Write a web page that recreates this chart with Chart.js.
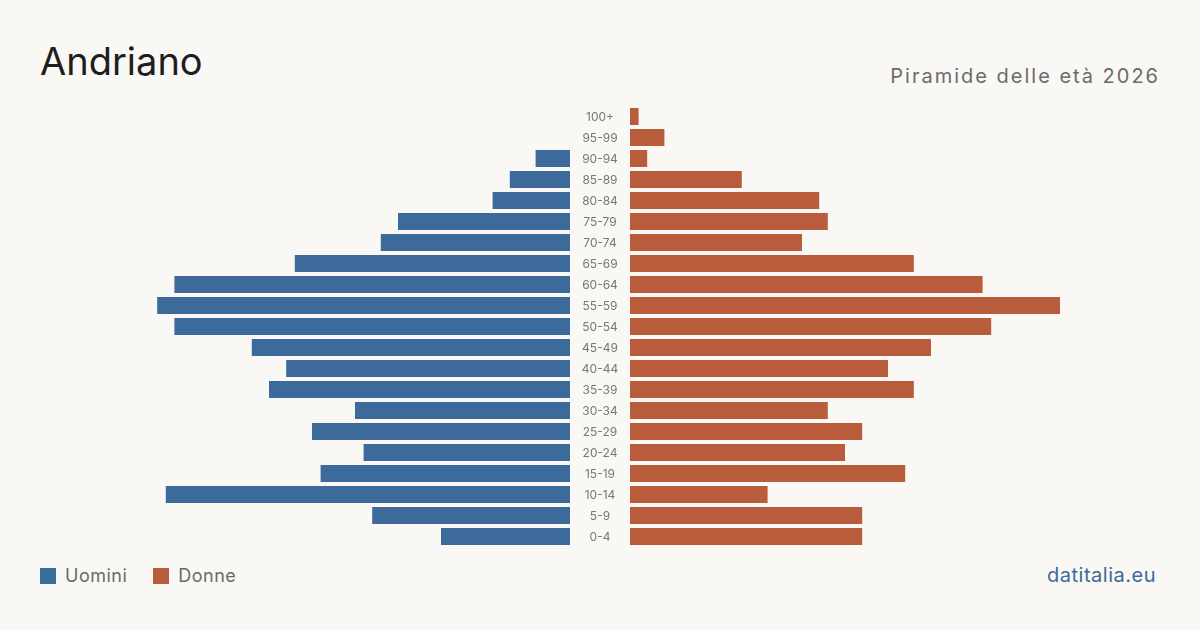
<!DOCTYPE html>
<html>
<head>
<meta charset="utf-8">
<script src="https://cdn.jsdelivr.net/npm/chart.js@4"></script>
<style>
  html, body { margin: 0; padding: 0; background: #f9f8f4; }
  #wrap { position: relative; width: 1200px; height: 630px; font-family: Inter, "Noto Sans", sans-serif; }
  h1 { position: absolute; left: 40px; top: 42px; margin: 0; font-size: 38px; font-weight: 400; color: #1e1e1e; line-height: 1; }
  .sub { position: absolute; right: 40px; top: 66px; font-size: 20px; letter-spacing: 2px; color: #6b6b6b; line-height: 1; }
  canvas { position: absolute; }
  .legend { position: absolute; left: 40px; top: 566px; font-size: 18px; letter-spacing: 0.5px; color: #6b6b6b; display: flex; align-items: center; line-height: 20px; }
  .legend span.sw { display: inline-block; width: 16px; height: 16px; margin-right: 9px; }
  .legend span.it { margin-right: 26px; }
  .src { position: absolute; right: 44px; top: 565px; font-size: 20px; letter-spacing: 0.5px; color: #3b6a9c; line-height: 20px; }
</style>
</head>
<body>
<div id="wrap">
  <h1>Andriano</h1>
  <div class="sub">Piramide delle età 2026</div>
  <canvas id="left" width="430" height="441" style="left:140px;top:106px"></canvas>
  <canvas id="right" width="490" height="441" style="left:570px;top:106px"></canvas>
  <div class="legend">
    <span class="sw" style="background:#3b6a9b"></span><span class="it">Uomini</span>
    <span class="sw" style="background:#b95c3c"></span><span>Donne</span>
  </div>
  <div class="src">datitalia.eu</div>
</div>
<script>
const ageGroups = ["100+", "95-99", "90-94", "85-89", "80-84", "75-79", "70-74", "65-69", "60-64", "55-59",
  "50-54", "45-49", "40-44", "35-39", "30-34", "25-29", "20-24", "15-19", "10-14", "5-9", "0-4"];
const uomini = [0, 0, 4, 7, 9, 20, 22, 32, 46, 48, 46, 37, 33, 35, 25, 30, 24, 29, 47, 23, 15];
const donne = [1, 4, 2, 13, 22, 23, 20, 33, 41, 50, 42, 35, 30, 33, 23, 27, 25, 32, 16, 27, 27];
const axisMax = 50;

const blue = "#3b6a9b";
const orange = "#b95c3c";

function baseOptions(reverse, padLeft) {
  return {
    indexAxis: "y",
    responsive: false,
    animation: false,
    layout: { padding: { left: padLeft, right: 0, top: 0, bottom: 0 } },
    plugins: { legend: { display: false }, tooltip: { enabled: false } },
    scales: {
      x: { display: false, min: 0, max: axisMax, reverse: reverse },
      y: { display: false }
    }
  };
}

new Chart(document.getElementById("left"), {
  type: "bar",
  data: {
    labels: ageGroups,
    datasets: [{ label: "Uomini", data: uomini, backgroundColor: blue, barPercentage: 0.81, categoryPercentage: 1 }]
  },
  options: baseOptions(true, 0)
});

// etichette delle classi d'età nello spazio centrale
const ageLabels = {
  id: "ageLabels",
  afterDraw(chart) {
    const ctx = chart.ctx;
    const y = chart.scales.y;
    ctx.save();
    ctx.font = "12px Inter, 'Noto Sans', sans-serif";
    ctx.fillStyle = "#777";
    ctx.textAlign = "center";
    ctx.textBaseline = "middle";
    ageGroups.forEach((g, i) => {
      ctx.fillText(g, chart.chartArea.left - 30, y.getPixelForValue(i) + 1);
    });
    ctx.restore();
  }
};

new Chart(document.getElementById("right"), {
  type: "bar",
  data: {
    labels: ageGroups,
    datasets: [{ label: "Donne", data: donne, backgroundColor: orange, barPercentage: 0.81, categoryPercentage: 1 }]
  },
  options: baseOptions(false, 60),
  plugins: [ageLabels]
});
</script>
</body>
</html>
